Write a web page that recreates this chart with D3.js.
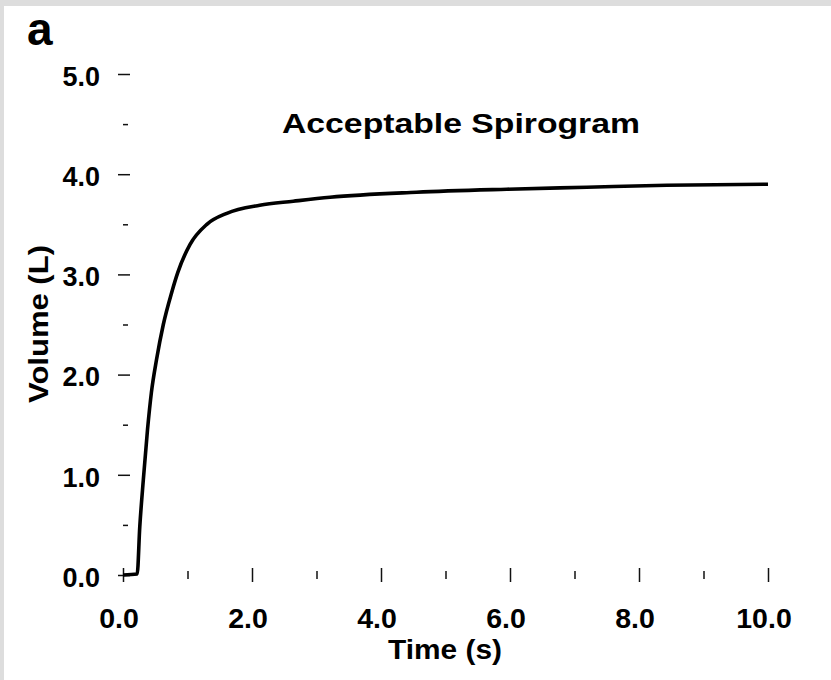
<!DOCTYPE html>
<html>
<head>
<meta charset="utf-8">
<script src="https://cdn.jsdelivr.net/npm/d3@7"></script>
<style>
  html, body { margin: 0; padding: 0; background: #dddddd; }
  #chart { position: absolute; left: 0; top: 0; }
  text { font-family: "Liberation Sans", Arial, Helvetica, sans-serif; font-weight: bold; fill: #000; }
</style>
</head>
<body>
<div id="chart"></div>
<script>
// Spirogram trace
const timeValues   = [0, 0.22, 0.26, 0.315, 0.38, 0.44, 0.52, 0.625, 0.755, 0.85, 1.04, 1.30, 1.61, 2.12, 2.64, 3.21, 4.55, 5.95, 7.19, 8.43, 10.0];
const volumeValues = [0, 0.01, 0.48, 0.95, 1.45, 1.82, 2.15, 2.50, 2.82, 3.02, 3.30, 3.50, 3.61, 3.69, 3.73, 3.77, 3.82, 3.85, 3.87, 3.89, 3.90];

const xMajorTicks = [0, 2, 4, 6, 8, 10];
const xMinorTicks = [1, 3, 5, 7, 9];
const yMajorTicks = [0, 1, 2, 3, 4, 5];
const yMinorTicks = [0.5, 1.5, 2.5, 3.5, 4.5];

const panelLabel = 'a';
const chartTitle = 'Acceptable Spirogram';
const xTitle = 'Time (s)';
const yTitle = 'Volume (L)';

const width = 831;
const height = 680;

const svg = d3.select('#chart')
  .append('svg')
  .attr('width', width)
  .attr('height', height);

// white page inside the grey scan border
svg.append('rect')
  .attr('x', 4)
  .attr('y', 6)
  .attr('width', width - 4)
  .attr('height', height - 6)
  .attr('fill', '#ffffff');

const xScale = d3.scaleLinear().domain([0, 10]).range([123, 768]);
const yScale = d3.scaleLinear().domain([0, 5]).range([575, 74]);

const fmt = d3.format('.1f');

// x axis (no axis line, ticks cross the baseline)
const xMajor = svg.append('g')
  .attr('transform', `translate(0,${yScale(0)})`)
  .call(d3.axisBottom(xScale).tickValues(xMajorTicks).tickSize(7).tickFormat(fmt));
xMajor.select('.domain').remove();
xMajor.selectAll('line').attr('y1', -7).attr('stroke', '#111').attr('stroke-width', 1.5);
xMajor.selectAll('text')
  .attr('y', 53)
  .attr('dy', 0)
  .attr('dx', -4.5)
  .style('font-size', '28.5px');

const xMinor = svg.append('g')
  .attr('transform', `translate(0,${yScale(0)})`)
  .call(d3.axisBottom(xScale).tickValues(xMinorTicks).tickSize(4).tickFormat(''));
xMinor.select('.domain').remove();
xMinor.selectAll('line').attr('y1', -4).attr('stroke', '#111').attr('stroke-width', 1.5);

// y axis
const yMajor = svg.append('g')
  .attr('transform', `translate(124,0)`)
  .call(d3.axisLeft(yScale).tickValues(yMajorTicks).tickSize(6).tickFormat(fmt));
yMajor.select('.domain').remove();
yMajor.selectAll('line').attr('x1', 6).attr('stroke', '#111').attr('stroke-width', 1.5);
yMajor.selectAll('text')
  .attr('x', -24)
  .attr('dy', '0.42em')
  .style('font-size', '27px');

const yMinor = svg.append('g')
  .attr('transform', `translate(125.5,0)`)
  .call(d3.axisLeft(yScale).tickValues(yMinorTicks).tickSize(2.5).tickFormat(''));
yMinor.select('.domain').remove();
yMinor.selectAll('line').attr('x1', 2.5).attr('stroke', '#111').attr('stroke-width', 1.5);

svg.selectAll('.tick text').attr('fill', '#000').attr('font-family', null);

// the curve
const points = timeValues.map((t, i) => ({ t, v: volumeValues[i] }));
const line = d3.line()
  .x(d => xScale(d.t))
  .y(d => yScale(d.v))
  .curve(d3.curveMonotoneX);

svg.append('path')
  .datum(points)
  .attr('d', line)
  .attr('fill', 'none')
  .attr('stroke', '#000')
  .attr('stroke-width', 3.6)
  .attr('stroke-linejoin', 'round');

// titles
svg.append('text')
  .attr('x', 27)
  .attr('y', 45)
  .style('font-size', '46px')
  .text(panelLabel);

svg.append('text')
  .attr('x', 461)
  .attr('y', 133)
  .attr('text-anchor', 'middle')
  .attr('textLength', 358)
  .attr('lengthAdjust', 'spacingAndGlyphs')
  .style('font-size', '27px')
  .text(chartTitle);

svg.append('text')
  .attr('x', 445)
  .attr('y', 659)
  .attr('text-anchor', 'middle')
  .attr('textLength', 114)
  .attr('lengthAdjust', 'spacingAndGlyphs')
  .style('font-size', '28px')
  .text(xTitle);

svg.append('text')
  .attr('transform', 'translate(48,324) rotate(-90)')
  .attr('text-anchor', 'middle')
  .attr('textLength', 158)
  .attr('lengthAdjust', 'spacingAndGlyphs')
  .style('font-size', '28px')
  .text(yTitle);
</script>
</body>
</html>
